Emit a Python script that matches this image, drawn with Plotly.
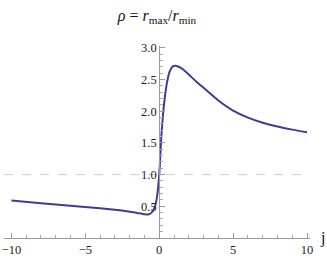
import plotly.graph_objects as go

j_vals = [-10, -8, -6, -4, -3, -2, -1.5, -1.0, -0.7, -0.5, -0.3, -0.15, 0.0,
          0.15, 0.3, 0.5, 0.7, 0.9, 1.1, 1.5, 2.0, 2.5, 3, 4, 5, 6, 7, 8, 9, 10]
rho_vals = [0.59, 0.55, 0.51, 0.47, 0.445, 0.415, 0.395, 0.375, 0.375, 0.405, 0.49, 0.65, 1.0,
            1.62, 2.05, 2.42, 2.62, 2.705, 2.72, 2.68, 2.58, 2.47, 2.37, 2.17, 2.01, 1.9, 1.82, 1.76, 1.71, 1.67]

x_ticks = [-10, -5, 0, 5, 10]
x_ticktext = ["\u221210", "\u22125", "0", "5", "10"]
y_ticks = [0.5, 1.0, 1.5, 2.0, 2.5, 3.0]
y_ticktext = ["0.5", "1.0", "1.5", "2.0", "2.5", "3.0"]

xmin, xmax = -10.5, 10.2
ymin, ymax = 0.0, 3.03

SERIF = "Liberation Serif, Times New Roman, serif"

fig = go.Figure()
fig.add_trace(go.Scatter(x=j_vals, y=rho_vals, mode="lines",
                         line=dict(color="#3d3d99", width=2, shape="spline", smoothing=0.6),
                         hoverinfo="skip", showlegend=False))

fig.add_shape(type="line", xref="paper", yref="y", x0=0, x1=1, y0=1, y1=1,
              line=dict(color="#cccccc", width=1, dash="dash"), layer="below")

axis_font = dict(family=SERIF, size=12.5, color="#222222")

fig.update_layout(
    width=327, height=256,
    margin=dict(l=4, r=17, t=46, b=18),
    paper_bgcolor="white", plot_bgcolor="white",
    font=dict(family=SERIF),
    title=dict(text="<i>\u03c1</i> = <i>r</i><sub>max</sub>/<i>r</i><sub>min</sub>",
               x=0.5, xref="paper", xanchor="center", y=1 - 15 / 256, yanchor="middle",
               yref="container",
               font=dict(family=SERIF, size=16, color="#111111")),
    xaxis=dict(range=[xmin, xmax], showgrid=False, zeroline=False, showline=True,
               linecolor="#999999", linewidth=1, ticks="inside", ticklen=5, tickcolor="#999999",
               tickvals=x_ticks, ticktext=x_ticktext, tickfont=axis_font, automargin=False,
               minor=dict(dtick=1, ticks="inside", ticklen=3, tickcolor="#aaaaaa", showgrid=False)),
    yaxis=dict(range=[ymin, ymax], showgrid=False, zeroline=False, showline=True,
               linecolor="#999999", linewidth=1, ticks="inside", ticklen=5, tickcolor="#999999",
               anchor="free", position=(0 - xmin) / (xmax - xmin), automargin=False,
               tickvals=y_ticks, ticktext=y_ticktext, tickfont=axis_font,
               minor=dict(dtick=0.1, ticks="inside", ticklen=3, tickcolor="#aaaaaa", showgrid=False)),
    annotations=[dict(text="j", xref="paper", yref="paper", x=1.0, y=0.0, xanchor="left",
                      yanchor="middle", xshift=8, showarrow=False,
                      font=dict(family=SERIF, size=16, color="#111111"))],
)

fig.write_html("out.html", config={"displayModeBar": False},
               post_script="document.body.style.margin='0';document.body.style.overflow='hidden';")
